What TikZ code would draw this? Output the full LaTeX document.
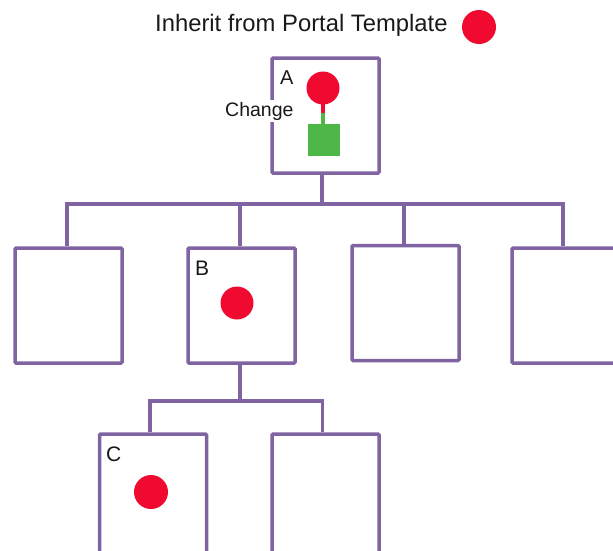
\documentclass[tikz,border=0pt]{standalone}
\usepackage{fontspec}
\setmainfont{Liberation Sans}
\definecolor{boxpurple}{HTML}{8064A2}
\definecolor{dotred}{HTML}{F00A30}
\definecolor{sqgreen}{HTML}{4DB848}
\begin{document}
\begin{tikzpicture}[x=1pt,y=-1pt,
  pagebox/.style={draw=boxpurple,line width=3.5pt,rounded corners=1pt,fill=white,
    minimum width=107pt,minimum height=115pt,inner sep=0pt},
  link/.style={draw=boxpurple,line width=3.5pt},
  reddot/.style={circle,fill=dotred,minimum size=33pt,inner sep=0pt},
  lbl/.style={font=\fontsize{20}{24}\selectfont,text=black!90,inner sep=0pt}]
\useasboundingbox (0,0) rectangle (613,550);
% title
\node[anchor=base west,inner sep=0pt,font=\fontsize{23.8}{28}\selectfont,text=black!90] (title) at (155,31) {Inherit from Portal Template};
\node[reddot,minimum size=34pt] (tdot) at (479,27) {};
% boxes
\node[pagebox] (A) at (325.5,115.5) {};
\node[pagebox] (b1) at (68.5,305.5) {};
\node[pagebox] (B) at (241.5,305.5) {};
\node[pagebox] (b3) at (405.5,303) {};
\node[pagebox] (b4) at (565.5,305.5) {};
\node[pagebox,minimum height=125pt] (C) at (153,496.5) {};
\node[pagebox,minimum height=125pt] (D) at (325.5,496.5) {};
% bus coordinates
\coordinate (busA) at (322,204);
\coordinate (busB) at (240,401);
% connectors
\draw[link] (busA |- A.south) -- (busA);
\draw[link] ([xshift=-1.5pt]b1.north) |- (busA) -| ([xshift=-2.5pt]b4.north);
\draw[link] ([xshift=-1.5pt]B.north) -- ([xshift=-1.5pt]B.north |- busA);
\draw[link] ([xshift=-1.5pt]b3.north) -- ([xshift=-1.5pt]b3.north |- busA);
\draw[link] (busB |- B.south) -- (busB);
\draw[link] ([xshift=-3pt]C.north) |- (busB) -| ([xshift=-3pt]D.north);
% contents of A
\node[lbl,anchor=base west] (la) at (280,84) {A};
\node[reddot] (adot) at (323,88) {};
\node[fill=sqgreen,minimum size=32pt,inner sep=0pt] (asq) at (324,140) {};
\coordinate (amid) at (323,113);
\draw[dotred,line width=4.5pt] (adot.center) -- (amid);
\draw[sqgreen,line width=4.5pt] (amid) -- (asq.north -| amid);
\node[fill=white,inner sep=2pt,anchor=base west,font=\fontsize{19.5}{23}\selectfont,text=black!90] (chg) at (223,116) {Change};
% contents of B
\node[lbl,anchor=base west,font=\fontsize{21}{25}\selectfont] (lb) at (195,275) {B};
\node[reddot] (bdot) at (237,303) {};
% contents of C
\node[lbl,anchor=base west,font=\fontsize{21}{25}\selectfont] (lc) at (106,461) {C};
\node[reddot,minimum size=34pt] (cdot) at (151,492) {};
\end{tikzpicture}
\end{document}
